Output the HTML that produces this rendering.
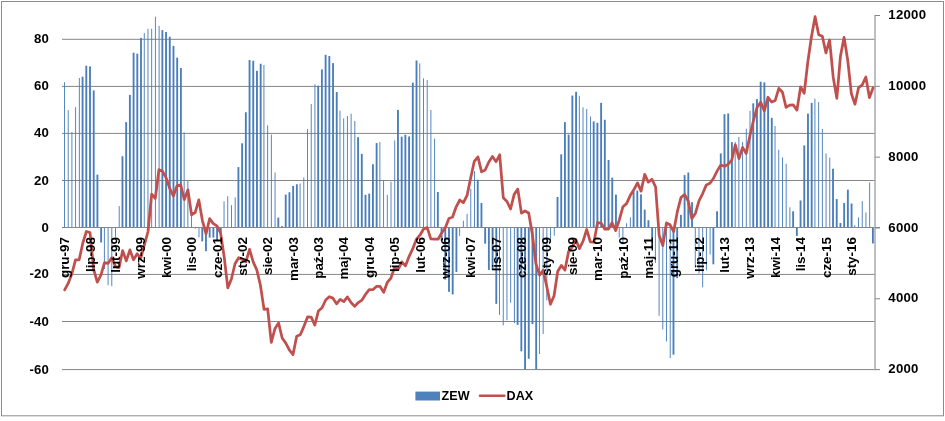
<!DOCTYPE html>
<html lang="pl"><head><meta charset="utf-8"><title>ZEW i DAX</title>
<style>html,body{margin:0;padding:0;background:#fff}svg{display:block}text{font-family:"Liberation Sans",sans-serif;font-weight:bold;fill:#000}</style></head><body>
<svg width="945" height="421" viewBox="0 0 945 421">
<rect x="0" y="0" width="945" height="421" fill="#fff"/>
<rect x="1.5" y="1.5" width="942" height="414.3" fill="none" stroke="#8c8c8c" stroke-width="1"/>
<rect x="62" y="38.80" width="813.5" height="1" fill="#868686"/>
<rect x="62" y="85.90" width="813.5" height="1" fill="#868686"/>
<rect x="62" y="132.90" width="813.5" height="1" fill="#868686"/>
<rect x="62" y="180.00" width="813.5" height="1" fill="#868686"/>
<rect x="62" y="273.90" width="813.5" height="1" fill="#868686"/>
<rect x="62" y="321.00" width="813.5" height="1" fill="#868686"/>
<rect x="62" y="369.10" width="813.5" height="1" fill="#868686"/>
<g fill="#4a7ebb">
<rect x="64.02" y="82.16" width="0.93" height="145.34"/>
<rect x="67.73" y="110.14" width="0.93" height="117.36"/>
<rect x="71.44" y="131.99" width="0.93" height="95.51"/>
<rect x="75.15" y="107.08" width="0.93" height="120.42"/>
<rect x="78.86" y="77.92" width="0.93" height="149.58"/>
<rect x="81.64" y="76.74" width="1.86" height="150.76"/>
<rect x="85.35" y="65.68" width="1.86" height="161.82"/>
<rect x="89.06" y="66.38" width="1.86" height="161.12"/>
<rect x="92.77" y="90.40" width="1.86" height="137.10"/>
<rect x="96.48" y="174.61" width="1.86" height="52.89"/>
<rect x="100.19" y="227.50" width="1.86" height="15.01"/>
<rect x="103.91" y="227.50" width="0.93" height="41.51"/>
<rect x="107.62" y="227.50" width="0.93" height="57.73"/>
<rect x="111.33" y="227.50" width="0.93" height="58.67"/>
<rect x="115.04" y="227.50" width="0.93" height="9.38"/>
<rect x="118.75" y="206.12" width="0.93" height="21.38"/>
<rect x="121.53" y="156.24" width="1.86" height="71.26"/>
<rect x="125.24" y="122.12" width="1.86" height="105.38"/>
<rect x="128.95" y="94.86" width="1.86" height="132.64"/>
<rect x="132.66" y="52.72" width="1.86" height="174.78"/>
<rect x="136.37" y="53.67" width="1.86" height="173.83"/>
<rect x="140.08" y="37.89" width="1.86" height="189.61"/>
<rect x="143.79" y="32.94" width="0.93" height="194.56"/>
<rect x="147.50" y="28.70" width="0.93" height="198.80"/>
<rect x="151.21" y="28.70" width="0.93" height="198.80"/>
<rect x="154.92" y="16.69" width="0.93" height="210.81"/>
<rect x="158.63" y="25.88" width="0.93" height="201.62"/>
<rect x="161.42" y="30.12" width="1.86" height="197.38"/>
<rect x="165.13" y="32.00" width="1.86" height="195.50"/>
<rect x="168.84" y="36.71" width="1.86" height="190.79"/>
<rect x="172.55" y="45.89" width="1.86" height="181.61"/>
<rect x="176.26" y="57.67" width="1.86" height="169.83"/>
<rect x="179.97" y="68.03" width="1.86" height="159.47"/>
<rect x="183.68" y="132.46" width="0.93" height="95.04"/>
<rect x="187.39" y="180.50" width="0.93" height="47.00"/>
<rect x="191.10" y="215.28" width="0.93" height="12.22"/>
<rect x="194.81" y="227.50" width="0.93" height="1.17"/>
<rect x="198.52" y="227.50" width="0.93" height="9.85"/>
<rect x="201.31" y="227.50" width="1.86" height="13.84"/>
<rect x="205.02" y="227.50" width="1.86" height="23.68"/>
<rect x="208.73" y="227.50" width="1.86" height="10.08"/>
<rect x="212.44" y="227.50" width="1.86" height="10.08"/>
<rect x="216.15" y="227.50" width="1.86" height="12.90"/>
<rect x="219.86" y="227.50" width="1.86" height="4.69"/>
<rect x="223.57" y="201.41" width="0.93" height="26.09"/>
<rect x="227.28" y="196.25" width="0.93" height="31.25"/>
<rect x="230.99" y="205.18" width="0.93" height="22.32"/>
<rect x="234.70" y="197.42" width="0.93" height="30.08"/>
<rect x="237.48" y="167.08" width="1.86" height="60.42"/>
<rect x="241.19" y="143.29" width="1.86" height="84.21"/>
<rect x="244.90" y="112.25" width="1.86" height="115.25"/>
<rect x="248.61" y="60.02" width="1.86" height="167.48"/>
<rect x="252.32" y="60.73" width="1.86" height="166.77"/>
<rect x="256.03" y="70.86" width="1.86" height="156.64"/>
<rect x="259.75" y="63.79" width="1.86" height="163.71"/>
<rect x="263.46" y="64.97" width="0.93" height="162.53"/>
<rect x="267.17" y="125.41" width="0.93" height="102.09"/>
<rect x="270.88" y="134.58" width="0.93" height="92.92"/>
<rect x="274.59" y="172.49" width="0.93" height="55.01"/>
<rect x="277.37" y="217.63" width="1.86" height="9.87"/>
<rect x="281.08" y="226.09" width="1.86" height="1.41"/>
<rect x="284.79" y="194.60" width="1.86" height="32.90"/>
<rect x="288.50" y="192.25" width="1.86" height="35.25"/>
<rect x="292.21" y="185.91" width="1.86" height="41.59"/>
<rect x="295.92" y="184.26" width="1.86" height="43.24"/>
<rect x="299.63" y="183.56" width="0.93" height="43.94"/>
<rect x="303.34" y="177.44" width="0.93" height="50.06"/>
<rect x="307.05" y="128.94" width="0.93" height="98.56"/>
<rect x="310.76" y="104.03" width="0.93" height="123.47"/>
<rect x="314.47" y="84.28" width="0.93" height="143.22"/>
<rect x="317.26" y="85.69" width="1.86" height="141.81"/>
<rect x="320.97" y="69.44" width="1.86" height="158.06"/>
<rect x="324.68" y="54.84" width="1.86" height="172.66"/>
<rect x="328.39" y="56.02" width="1.86" height="171.48"/>
<rect x="332.10" y="63.09" width="1.86" height="164.41"/>
<rect x="335.81" y="92.04" width="1.86" height="135.46"/>
<rect x="339.52" y="110.60" width="0.93" height="116.90"/>
<rect x="343.23" y="118.36" width="0.93" height="109.14"/>
<rect x="346.94" y="116.01" width="0.93" height="111.49"/>
<rect x="350.65" y="113.66" width="0.93" height="113.84"/>
<rect x="354.36" y="120.95" width="0.93" height="106.55"/>
<rect x="357.14" y="137.17" width="1.86" height="90.33"/>
<rect x="360.86" y="153.89" width="1.86" height="73.61"/>
<rect x="364.57" y="194.83" width="1.86" height="32.67"/>
<rect x="368.28" y="193.66" width="1.86" height="33.84"/>
<rect x="371.99" y="164.25" width="1.86" height="63.25"/>
<rect x="375.70" y="143.06" width="1.86" height="84.44"/>
<rect x="379.41" y="142.11" width="0.93" height="85.39"/>
<rect x="383.12" y="180.26" width="0.93" height="47.24"/>
<rect x="386.83" y="194.83" width="0.93" height="32.67"/>
<rect x="390.54" y="181.68" width="0.93" height="45.82"/>
<rect x="394.25" y="140.47" width="0.93" height="87.03"/>
<rect x="397.03" y="109.90" width="1.86" height="117.60"/>
<rect x="400.74" y="136.70" width="1.86" height="90.80"/>
<rect x="404.45" y="134.81" width="1.86" height="92.69"/>
<rect x="408.16" y="136.46" width="1.86" height="91.04"/>
<rect x="411.87" y="82.63" width="1.86" height="144.87"/>
<rect x="415.58" y="60.49" width="1.86" height="167.00"/>
<rect x="419.30" y="63.32" width="0.93" height="164.18"/>
<rect x="423.01" y="78.39" width="0.93" height="149.11"/>
<rect x="426.72" y="80.04" width="0.93" height="147.46"/>
<rect x="430.43" y="109.90" width="0.93" height="117.60"/>
<rect x="434.14" y="138.58" width="0.93" height="88.92"/>
<rect x="436.92" y="192.01" width="1.86" height="35.49"/>
<rect x="440.63" y="227.50" width="1.86" height="13.13"/>
<rect x="444.34" y="227.50" width="1.86" height="52.08"/>
<rect x="448.05" y="227.50" width="1.86" height="64.33"/>
<rect x="451.76" y="227.50" width="1.86" height="66.92"/>
<rect x="455.47" y="227.50" width="1.86" height="44.55"/>
<rect x="459.18" y="227.50" width="0.93" height="8.44"/>
<rect x="462.89" y="220.69" width="0.93" height="6.81"/>
<rect x="466.60" y="213.87" width="0.93" height="13.63"/>
<rect x="470.31" y="188.72" width="0.93" height="38.78"/>
<rect x="474.02" y="171.08" width="0.93" height="56.42"/>
<rect x="476.81" y="179.79" width="1.86" height="47.71"/>
<rect x="480.52" y="203.06" width="1.86" height="24.44"/>
<rect x="484.23" y="227.50" width="1.86" height="16.18"/>
<rect x="487.94" y="227.50" width="1.86" height="42.44"/>
<rect x="491.65" y="227.50" width="1.86" height="42.44"/>
<rect x="495.36" y="227.50" width="1.86" height="76.34"/>
<rect x="499.07" y="227.50" width="0.93" height="87.41"/>
<rect x="502.78" y="227.50" width="0.93" height="97.85"/>
<rect x="506.49" y="227.50" width="0.93" height="92.82"/>
<rect x="510.20" y="227.50" width="0.93" height="75.16"/>
<rect x="513.91" y="227.50" width="0.93" height="95.68"/>
<rect x="516.70" y="227.50" width="1.86" height="97.37"/>
<rect x="520.41" y="227.50" width="1.86" height="123.82"/>
<rect x="524.12" y="227.50" width="1.86" height="142.10"/>
<rect x="527.83" y="227.50" width="1.86" height="131.28"/>
<rect x="531.54" y="227.50" width="1.86" height="96.65"/>
<rect x="535.25" y="227.50" width="1.86" height="142.10"/>
<rect x="538.96" y="227.50" width="0.93" height="126.47"/>
<rect x="542.67" y="227.50" width="0.93" height="106.51"/>
<rect x="546.38" y="227.50" width="0.93" height="72.81"/>
<rect x="550.09" y="227.50" width="0.93" height="13.60"/>
<rect x="553.80" y="227.50" width="0.93" height="8.21"/>
<rect x="556.58" y="196.95" width="1.86" height="30.55"/>
<rect x="560.29" y="154.36" width="1.86" height="73.14"/>
<rect x="564.00" y="122.12" width="1.86" height="105.38"/>
<rect x="567.71" y="134.58" width="1.86" height="92.92"/>
<rect x="571.42" y="95.56" width="1.86" height="131.94"/>
<rect x="575.14" y="91.81" width="1.86" height="135.69"/>
<rect x="578.85" y="95.80" width="0.93" height="131.70"/>
<rect x="582.56" y="107.31" width="0.93" height="120.19"/>
<rect x="586.27" y="108.96" width="0.93" height="118.54"/>
<rect x="589.98" y="116.48" width="0.93" height="111.02"/>
<rect x="592.76" y="121.42" width="1.86" height="106.08"/>
<rect x="596.47" y="122.83" width="1.86" height="104.67"/>
<rect x="600.18" y="102.85" width="1.86" height="124.65"/>
<rect x="603.89" y="119.77" width="1.86" height="107.73"/>
<rect x="607.60" y="160.01" width="1.86" height="67.49"/>
<rect x="611.31" y="177.67" width="1.86" height="49.83"/>
<rect x="615.02" y="194.60" width="1.86" height="32.90"/>
<rect x="618.73" y="227.50" width="0.93" height="10.08"/>
<rect x="622.44" y="227.50" width="0.93" height="16.88"/>
<rect x="626.15" y="223.27" width="0.93" height="4.23"/>
<rect x="629.86" y="217.40" width="0.93" height="10.10"/>
<rect x="632.65" y="191.31" width="1.86" height="36.19"/>
<rect x="636.36" y="190.61" width="1.86" height="36.89"/>
<rect x="640.07" y="194.37" width="1.86" height="33.13"/>
<rect x="643.78" y="209.64" width="1.86" height="17.86"/>
<rect x="647.49" y="220.22" width="1.86" height="7.28"/>
<rect x="651.20" y="227.50" width="1.86" height="21.10"/>
<rect x="654.91" y="227.50" width="0.93" height="35.41"/>
<rect x="658.62" y="227.50" width="0.93" height="88.35"/>
<rect x="662.33" y="227.50" width="0.93" height="101.94"/>
<rect x="666.04" y="227.50" width="0.93" height="113.96"/>
<rect x="669.75" y="227.50" width="0.93" height="130.56"/>
<rect x="672.54" y="227.50" width="1.86" height="127.19"/>
<rect x="676.25" y="227.50" width="1.86" height="50.67"/>
<rect x="679.96" y="214.81" width="1.86" height="12.69"/>
<rect x="683.67" y="175.08" width="1.86" height="52.42"/>
<rect x="687.38" y="172.49" width="1.86" height="55.01"/>
<rect x="691.09" y="202.12" width="1.86" height="25.38"/>
<rect x="694.80" y="227.50" width="0.93" height="39.63"/>
<rect x="698.51" y="227.50" width="0.93" height="45.96"/>
<rect x="702.22" y="227.50" width="0.93" height="59.85"/>
<rect x="705.93" y="227.50" width="0.93" height="42.68"/>
<rect x="709.64" y="227.50" width="0.93" height="26.97"/>
<rect x="712.42" y="227.50" width="1.86" height="36.82"/>
<rect x="716.13" y="211.28" width="1.86" height="16.22"/>
<rect x="719.84" y="153.42" width="1.86" height="74.08"/>
<rect x="723.55" y="114.13" width="1.86" height="113.37"/>
<rect x="727.26" y="113.43" width="1.86" height="114.07"/>
<rect x="730.98" y="142.11" width="1.86" height="85.39"/>
<rect x="734.69" y="141.88" width="0.93" height="85.62"/>
<rect x="738.40" y="136.93" width="0.93" height="90.57"/>
<rect x="742.11" y="142.11" width="0.93" height="85.39"/>
<rect x="745.82" y="128.70" width="0.93" height="98.80"/>
<rect x="749.53" y="110.84" width="0.93" height="116.66"/>
<rect x="752.31" y="103.32" width="1.86" height="124.18"/>
<rect x="756.02" y="99.09" width="1.86" height="128.41"/>
<rect x="759.73" y="81.69" width="1.86" height="145.81"/>
<rect x="763.44" y="82.40" width="1.86" height="145.10"/>
<rect x="767.15" y="96.50" width="1.86" height="131.00"/>
<rect x="770.86" y="117.89" width="1.86" height="109.61"/>
<rect x="774.57" y="125.88" width="0.93" height="101.62"/>
<rect x="778.28" y="149.65" width="0.93" height="77.85"/>
<rect x="781.99" y="157.42" width="0.93" height="70.08"/>
<rect x="785.70" y="163.78" width="0.93" height="63.72"/>
<rect x="789.42" y="207.29" width="0.93" height="20.21"/>
<rect x="792.20" y="211.28" width="1.86" height="16.22"/>
<rect x="795.91" y="227.50" width="1.86" height="8.44"/>
<rect x="799.62" y="200.47" width="1.86" height="27.03"/>
<rect x="803.33" y="145.41" width="1.86" height="82.09"/>
<rect x="807.04" y="113.66" width="1.86" height="113.84"/>
<rect x="810.75" y="102.85" width="1.86" height="124.65"/>
<rect x="814.46" y="98.62" width="0.93" height="128.88"/>
<rect x="818.17" y="102.15" width="0.93" height="125.35"/>
<rect x="821.88" y="128.94" width="0.93" height="98.56"/>
<rect x="825.59" y="153.42" width="0.93" height="74.08"/>
<rect x="829.30" y="157.66" width="0.93" height="69.84"/>
<rect x="832.09" y="168.72" width="1.86" height="58.78"/>
<rect x="835.80" y="199.06" width="1.86" height="28.44"/>
<rect x="839.51" y="223.03" width="1.86" height="4.47"/>
<rect x="843.22" y="203.06" width="1.86" height="24.44"/>
<rect x="846.93" y="189.66" width="1.86" height="37.84"/>
<rect x="850.64" y="203.53" width="1.86" height="23.97"/>
<rect x="854.35" y="225.15" width="0.93" height="2.35"/>
<rect x="858.06" y="217.40" width="0.93" height="10.10"/>
<rect x="861.77" y="201.18" width="0.93" height="26.32"/>
<rect x="865.48" y="212.46" width="0.93" height="15.04"/>
<rect x="869.19" y="182.38" width="0.93" height="45.12"/>
<rect x="871.97" y="227.50" width="1.86" height="15.95"/>
</g>
<rect x="62" y="227.0" width="818" height="1" fill="#868686"/>
<rect x="874.2" y="15.00" width="1.6" height="355.10" fill="#b0b0b0"/>
<rect x="875" y="369.10" width="5" height="1" fill="#868686"/>
<rect x="875" y="298.28" width="5" height="1" fill="#868686"/>
<rect x="875" y="227.46" width="5" height="1" fill="#868686"/>
<rect x="875" y="156.64" width="5" height="1" fill="#868686"/>
<rect x="875" y="85.82" width="5" height="1" fill="#868686"/>
<rect x="875" y="15.00" width="5" height="1" fill="#868686"/>
<polyline points="64.65,289.93 68.28,283.20 71.90,273.64 75.53,259.83 79.15,259.83 82.78,243.19 86.40,231.50 90.03,232.56 93.65,269.39 97.28,282.14 100.90,275.06 104.53,262.66 108.15,263.37 111.78,257.70 115.40,266.56 119.03,267.62 122.65,250.62 126.28,260.89 129.91,249.91 133.53,259.83 137.16,253.81 140.78,258.06 144.41,244.78 148.03,231.50 151.66,194.04 155.28,198.39 158.91,169.71 162.53,171.30 166.16,177.89 169.78,188.65 173.41,196.16 177.03,185.82 180.66,184.87 184.28,199.70 187.91,189.82 191.54,214.79 195.16,212.59 198.79,199.81 202.41,220.59 206.04,233.98 209.66,218.58 213.29,223.60 216.91,225.91 220.54,232.88 224.16,256.71 227.79,287.87 231.41,278.99 235.04,263.72 238.66,257.70 242.29,259.55 245.92,261.95 249.54,249.31 253.17,261.92 256.79,269.81 260.42,285.22 264.04,309.40 267.67,308.94 271.29,342.37 274.92,328.77 278.54,322.86 282.17,337.98 285.79,343.11 289.42,350.23 293.04,354.59 296.67,336.24 300.29,334.79 303.92,326.36 307.55,316.91 311.17,317.02 314.80,325.09 318.42,310.96 322.05,307.77 325.67,300.02 329.30,296.69 332.92,298.14 336.55,303.84 340.17,299.31 343.80,301.58 347.42,296.90 351.05,302.46 354.67,306.39 358.30,302.57 361.92,300.20 365.55,294.32 369.18,289.72 372.80,289.75 376.43,286.39 380.05,286.42 383.68,292.23 387.30,282.49 390.93,278.03 394.55,267.37 398.18,269.39 401.80,261.81 405.43,265.88 409.05,256.54 412.68,248.92 416.30,239.50 419.93,235.18 423.55,229.02 427.18,227.64 430.81,238.87 434.43,239.18 438.06,239.22 441.68,232.92 445.31,227.82 448.93,218.43 452.56,217.02 456.18,206.82 459.81,200.02 463.43,202.64 467.06,195.49 470.68,178.07 474.31,161.28 477.93,156.89 481.56,171.87 485.18,169.96 488.81,162.03 492.44,156.47 496.06,161.71 499.69,154.77 503.31,197.79 506.94,201.47 510.56,209.02 514.19,194.36 517.81,189.12 521.44,213.16 525.06,210.96 528.69,213.02 532.31,233.94 535.94,263.79 539.56,275.09 543.19,270.10 546.81,286.81 550.44,304.30 554.07,295.77 557.69,271.55 561.32,265.46 564.94,270.13 568.57,251.61 572.19,247.15 575.82,239.47 579.44,248.67 583.07,241.20 586.69,229.48 590.32,241.81 593.94,242.19 597.57,222.51 601.19,223.14 604.82,229.23 608.45,229.16 612.07,222.72 615.70,230.62 619.32,219.85 622.95,206.68 626.57,203.60 630.20,195.60 633.82,189.82 637.45,182.92 641.07,191.10 644.70,174.35 648.32,182.17 651.95,179.24 655.57,186.92 659.20,235.57 662.82,245.59 666.45,222.97 670.08,224.81 673.70,231.57 677.33,211.71 680.95,197.65 684.58,194.43 688.20,201.01 691.83,218.61 695.45,213.23 699.08,200.62 702.70,193.58 706.33,184.90 709.95,183.31 713.58,178.17 717.20,170.88 720.83,165.07 724.45,166.28 728.08,164.40 731.71,160.19 735.33,144.78 738.96,158.59 742.58,147.37 746.21,153.49 749.83,136.11 753.46,120.53 757.08,107.39 760.71,102.18 764.33,110.89 767.96,97.23 771.58,102.04 775.21,100.38 778.83,88.34 782.46,92.23 786.08,107.32 789.71,105.09 793.34,104.95 796.96,110.15 800.59,86.99 804.21,93.19 807.84,61.75 811.46,36.68 815.09,16.70 818.71,34.83 822.34,36.25 825.96,52.86 829.59,39.97 833.21,77.15 836.84,98.36 840.46,56.22 844.09,37.38 847.71,60.01 851.34,93.47 854.97,104.20 858.59,87.52 862.22,84.94 865.84,77.01 869.47,97.65 873.09,87.74" fill="none" stroke="#c0504d" stroke-width="2.75" stroke-linejoin="round" stroke-linecap="round"/>
<g font-size="13.4" text-anchor="end">
<text transform="translate(69.25,237.1) rotate(-90)">gru-97</text>
<text transform="translate(94.63,237.1) rotate(-90)">lip-98</text>
<text transform="translate(120.00,237.1) rotate(-90)">lut-99</text>
<text transform="translate(145.38,237.1) rotate(-90)">wrz-99</text>
<text transform="translate(170.76,237.1) rotate(-90)">kwi-00</text>
<text transform="translate(196.14,237.1) rotate(-90)">lis-00</text>
<text transform="translate(221.51,237.1) rotate(-90)">cze-01</text>
<text transform="translate(246.89,237.1) rotate(-90)">sty-02</text>
<text transform="translate(272.27,237.1) rotate(-90)">sie-02</text>
<text transform="translate(297.64,237.1) rotate(-90)">mar-03</text>
<text transform="translate(323.02,237.1) rotate(-90)">paź-03</text>
<text transform="translate(348.40,237.1) rotate(-90)">maj-04</text>
<text transform="translate(373.78,237.1) rotate(-90)">gru-04</text>
<text transform="translate(399.15,237.1) rotate(-90)">lip-05</text>
<text transform="translate(424.53,237.1) rotate(-90)">lut-06</text>
<text transform="translate(449.91,237.1) rotate(-90)">wrz-06</text>
<text transform="translate(475.28,237.1) rotate(-90)">kwi-07</text>
<text transform="translate(500.66,237.1) rotate(-90)">lis-07</text>
<text transform="translate(526.04,237.1) rotate(-90)">cze-08</text>
<text transform="translate(551.41,237.1) rotate(-90)">sty-09</text>
<text transform="translate(576.79,237.1) rotate(-90)">sie-09</text>
<text transform="translate(602.17,237.1) rotate(-90)">mar-10</text>
<text transform="translate(627.55,237.1) rotate(-90)">paź-10</text>
<text transform="translate(652.92,237.1) rotate(-90)">maj-11</text>
<text transform="translate(678.30,237.1) rotate(-90)">gru-11</text>
<text transform="translate(703.68,237.1) rotate(-90)">lip-12</text>
<text transform="translate(729.05,237.1) rotate(-90)">lut-13</text>
<text transform="translate(754.43,237.1) rotate(-90)">wrz-13</text>
<text transform="translate(779.81,237.1) rotate(-90)">kwi-14</text>
<text transform="translate(805.19,237.1) rotate(-90)">lis-14</text>
<text transform="translate(830.56,237.1) rotate(-90)">cze-15</text>
<text transform="translate(855.94,237.1) rotate(-90)">sty-16</text>
</g>
<g font-size="13.2" letter-spacing="0.25" text-anchor="end">
<text x="49.2" y="43.30">80</text>
<text x="49.2" y="90.40">60</text>
<text x="49.2" y="137.40">40</text>
<text x="49.2" y="184.50">20</text>
<text x="49.2" y="231.50">0</text>
<text x="49.2" y="278.40">-20</text>
<text x="49.2" y="325.50">-40</text>
<text x="49.2" y="373.60">-60</text>
</g>
<g font-size="13.2" letter-spacing="0.25">
<text x="888.3" y="373.30">2000</text>
<text x="888.3" y="302.48">4000</text>
<text x="888.3" y="231.66">6000</text>
<text x="888.3" y="160.84">8000</text>
<text x="888.3" y="90.02">10000</text>
<text x="888.3" y="19.20">12000</text>
</g>
<rect x="415.4" y="391.6" width="24.6" height="8.9" fill="#4f81bd"/>
<text x="441.6" y="400.2" font-size="12.6">ZEW</text>
<line x1="480" y1="395.7" x2="504.3" y2="395.7" stroke="#c0504d" stroke-width="2.6" stroke-linecap="round"/>
<text x="506.6" y="400.2" font-size="12.6">DAX</text>
</svg></body></html>
